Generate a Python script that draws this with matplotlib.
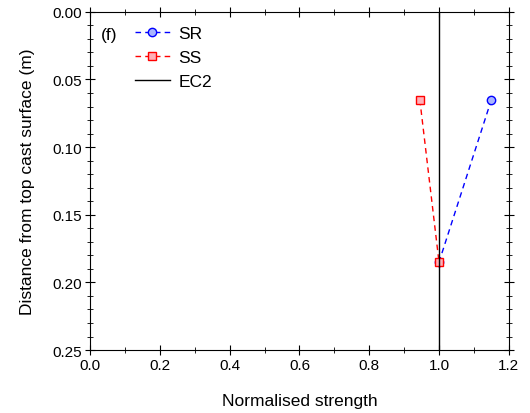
import numpy as np
import matplotlib.pyplot as plt

plt.rcParams['font.family'] = ['Liberation Sans', 'DejaVu Sans']

sr_x = [1.15, 1.0]
sr_y = [0.065, 0.185]
ss_x = [0.945, 1.0]
ss_y = [0.065, 0.185]
ec2_x = 1.0

fig = plt.figure(figsize=(5.3, 4.14), dpi=100)
ax = fig.add_axes([0.170, 0.152, 0.790, 0.817])

ax.plot(sr_x, sr_y, '--o', color='blue', lw=1, ms=6, mfc='#a8b4ff', mec='blue',
        dashes=(4, 3), label='SR')
ax.plot(ss_x, ss_y, '--s', color='red', lw=1, ms=6, mfc='#ffb0b8', mec='red',
        dashes=(4, 3), label='SS')
ax.axvline(ec2_x, color='black', lw=1, label='EC2')

ax.set_xlim(0, 1.2)
ax.set_ylim(0.25, 0)
ax.set_xticks(np.arange(0, 1.21, 0.2))
ax.set_yticks(np.arange(0, 0.251, 0.05))
ax.set_xticks(np.arange(0, 1.21, 0.1), minor=True)
ax.set_yticks(np.arange(0, 0.251, 0.01), minor=True)
ax.xaxis.set_major_formatter(plt.FormatStrFormatter('%.1f'))
ax.yaxis.set_major_formatter(plt.FormatStrFormatter('%.2f'))
ax.tick_params(which='both', direction='inout', top=True, right=True, labelsize=11)
ax.tick_params(which='major', length=7, pad=2)
ax.tick_params(which='minor', length=4)

ax.set_xlabel('Normalised strength', fontsize=12.5, labelpad=15)
ax.set_ylabel('Distance from top cast surface (m)', fontsize=12.5, labelpad=13)

ax.text(0.025, 0.955, '(f)', transform=ax.transAxes, fontsize=12.5, va='top')
ax.legend(loc='upper left', bbox_to_anchor=(0.07, 1.005), frameon=False, fontsize=12.5,
          handlelength=2.0, handletextpad=0.5, labelspacing=0.5)

fig.savefig('out.png', dpi=100)
